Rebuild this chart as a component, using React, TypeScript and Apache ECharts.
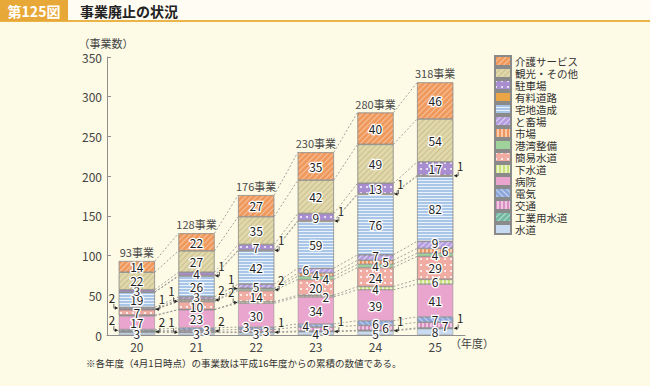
import React, { useEffect, useRef } from 'react';
import * as echarts from 'echarts';

const years = ['20', '21', '22', '23', '24', '25'];
const totals = [93, 128, 176, 230, 280, 318];
const seriesNames = ['水道', '工業用水道', '交通', '電気', '病院', '下水道', '簡易水道', '港湾整備', '市場', 'と畜場', '宅地造成', '有料道路', '駐車場', '観光・その他', '介護サービス'];

const suido = [3, 3, 3, 4, 5, 8];
const kogyoSuido = [2, 1, 1, 1, 1, 1];
const kotsu = [0, 2, 3, 5, 6, 7];
const denki = [2, 3, 3, 4, 6, 7];
const byoin = [17, 23, 30, 34, 39, 41];
const gesuido = [1, 0, 2, 2, 4, 6];
const kaniSuido = [7, 10, 14, 20, 24, 29];
const kowan = [0, 1, 2, 4, 4, 4];
const shijo = [1, 2, 1, 4, 5, 6];
const tochikujo = [2, 3, 5, 6, 7, 9];
const takuchi = [19, 26, 42, 59, 76, 82];
const yuryoDoro = [0, 1, 1, 1, 1, 1];
const chushajo = [3, 4, 7, 9, 13, 17];
const kanko = [22, 27, 35, 42, 49, 54];
const kaigo = [14, 22, 27, 35, 40, 46];

const seriesValues = [suido, kogyoSuido, kotsu, denki, byoin, gesuido, kaniSuido, kowan, shijo, tochikujo, takuchi, yuryoDoro, chushajo, kanko, kaigo];

const yTicks = { min: 0, max: 350, interval: 50 };

// small values labelled outside the bar: [yearIndex, seriesIndex, side]
const outsideLabels: [number, number, string][] = [
  [0, 1, 'R'], [0, 3, 'L'], [0, 5, 'N'], [0, 8, 'R'], [0, 9, 'L'],
  [1, 1, 'L'], [1, 2, 'R'], [1, 7, 'L'], [1, 8, 'R'], [1, 11, 'R'],
  [2, 1, 'R'], [2, 5, 'L'], [2, 7, 'R'], [2, 8, 'L'], [2, 11, 'R'],
  [3, 1, 'R'], [3, 11, 'R'],
  [4, 1, 'R'], [4, 11, 'R'],
  [5, 1, 'R'], [5, 11, 'R'],
];
// shifts of inside labels: [yearIndex, seriesIndex, dx, dy]
const labelShifts: [number, number, number, number][] = [
  [1, 3, 10, 0], [1, 9, 0, -2], [1, 6, 0, 1],
  [2, 3, -10, -2], [2, 2, 10, 0],
  [3, 3, -10, 0], [3, 2, 10, 0], [3, 9, -10, -1], [3, 7, 10, 1], [3, 5, 10, 0],
  [4, 2, 10, 0], [4, 8, 10, -1], [4, 9, 0, -2],
  [5, 2, 10, 0], [5, 8, 10, 0], [5, 9, 0, -2],
];

const FONT = "'Noto Sans CJK JP', 'Noto Sans', sans-serif";
const W = (a: number) => `rgba(255,255,255,${a})`;
const diag = (color: string, rot: number) => ({ symbol: 'rect', symbolSize: 1, dashArrayX: [1, 0], dashArrayY: [1, 2.2], rotation: rot, color });
const hLines = (color: string) => ({ symbol: 'rect', symbolSize: 1, dashArrayX: [1, 0], dashArrayY: [1, 1.6], rotation: 0, color });
const vLines = (color: string) => ({ symbol: 'rect', symbolSize: 1, dashArrayX: [1, 0], dashArrayY: [1.3, 1.7], rotation: Math.PI / 2, color });
const dots = (color: string) => ({ symbol: 'circle', symbolSize: 1, dashArrayX: [1.6, 4], dashArrayY: [1.6, 4], rotation: 0, color });

const colors = ['#c8daf2', '#72b9a2', '#da8fc2', '#8ea7da', '#e9a5cd', '#cde27c', '#f0aba2', '#a0d29c', '#f0965c', '#b59ee0', '#a9c6e9', '#eaa646', '#a88dd0', '#e0d8ab', '#f0995c'];
const decals: any[] = [
  null, diag(W(0.5), -Math.PI / 4), vLines(W(0.5)), diag(W(0.5), Math.PI / 4), null,
  vLines(W(0.6)), dots(W(0.9)), null, vLines(W(0.5)), diag(W(0.55), -Math.PI / 4),
  hLines(W(0.75)), null, dots(W(0.85)), diag('rgba(170,155,100,0.4)', -Math.PI / 4), diag(W(0.4), -Math.PI / 4),
];

const HALF = 18;

function cumulative(yearIdx: number, upTo: number) {
  let s = 0;
  for (let k = 0; k < upTo; k++) s += seriesValues[k][yearIdx];
  return s;
}

export default function App() {
  const ref = useRef<HTMLDivElement>(null);
  useEffect(() => {
    if (!ref.current) return;
    const chart = echarts.init(ref.current, null, { renderer: 'svg' });

    const barSeries = seriesNames.map((name, i) => ({
      name,
      type: 'bar',
      stack: 'total',
      barWidth: 36,
      data: seriesValues[i],
      itemStyle: { color: colors[i], borderColor: '#8a8a8a', borderWidth: 0.5, decal: decals[i] || undefined },
      emphasis: { disabled: true },
      z: 3,
    }));

    const lineData: number[][] = [];
    for (let i = 0; i < years.length - 1; i++) lineData.push([i, 0]);

    const connectSeries = {
      type: 'custom',
      silent: true,
      z: 2,
      data: lineData,
      encode: { x: 0, y: 1 },
      renderItem: (params: any, api: any) => {
        const i = api.value(0);
        const children: any[] = [];
        for (let b = 1; b <= seriesNames.length; b++) {
          const a = api.coord([i, cumulative(i, b)]);
          const c = api.coord([i + 1, cumulative(i + 1, b)]);
          children.push({
            type: 'line',
            shape: { x1: a[0] + HALF, y1: a[1], x2: c[0] - HALF, y2: c[1] },
            style: { stroke: '#8c8c8c', lineWidth: 0.8, lineDash: [2, 2] },
          });
        }
        return { type: 'group', children };
      },
    };

    const labelSeries = {
      type: 'custom',
      silent: true,
      z: 10,
      data: years.map((_, i) => [i, totals[i]]),
      encode: { x: 0, y: 1 },
      renderItem: (params: any, api: any) => {
        const i = api.value(0);
        const children: any[] = [];
        const top = api.coord([i, totals[i]]);
        children.push({
          type: 'text', x: top[0], y: top[1] - 9,
          style: { text: totals[i] + '事業', fill: '#4a4a4a', fontSize: 11, fontFamily: FONT, align: 'center', verticalAlign: 'middle' },
        });
        for (let s = 0; s < seriesNames.length; s++) {
          const v = seriesValues[s][i];
          if (!v) continue;
          const bottom = cumulative(i, s);
          const mid = api.coord([i, bottom + v / 2]);
          const out = outsideLabels.find((o) => o[0] === i && o[1] === s);
          if (out) {
            if (out[2] === 'N') continue;
            const dir = out[2] === 'R' ? 1 : -1;
            const edge = mid[0] + dir * HALF;
            const tx = edge + dir * 7;
            children.push({
              type: 'text', x: tx, y: mid[1] - 10,
              style: { text: String(v), fill: '#222', fontSize: 11.5, fontFamily: FONT, align: 'center', verticalAlign: 'middle', stroke: '#fdfae6', lineWidth: 2 },
            });
            children.push({
              type: 'polyline',
              shape: { points: [[tx - dir * 2, mid[1] - 4], [tx - dir * 2, mid[1]], [edge + dir * 3, mid[1]]] },
              style: { stroke: '#333', lineWidth: 0.7, fill: 'none' },
            });
            children.push({
              type: 'polygon',
              shape: { points: [[edge + dir * 0.5, mid[1]], [edge + dir * 4, mid[1] - 1.8], [edge + dir * 4, mid[1] + 1.8]] },
              style: { fill: '#222' },
            });
          } else {
            const sh = labelShifts.find((o) => o[0] === i && o[1] === s);
            const dx = sh ? sh[2] : 0;
            const dy = sh ? sh[3] : 0;
            children.push({
              type: 'text', x: mid[0] + dx, y: mid[1] + dy,
              style: { text: String(v), fill: '#1e1e1e', fontSize: 12, fontFamily: FONT, align: 'center', verticalAlign: 'middle', stroke: '#ffffff', lineWidth: 2.5 },
            });
          }
        }
        return { type: 'group', children };
      },
    };

    chart.setOption({
      animation: false,
      backgroundColor: '#fdfae6',
      textStyle: { fontFamily: FONT },
      grid: { left: 107, right: 185, top: 57, bottom: 51 },
      xAxis: {
        type: 'category',
        data: years,
        axisLine: { lineStyle: { color: '#8f8f8f', width: 1 } },
        axisTick: { show: false },
        axisLabel: { color: '#444', fontSize: 12, margin: 5, fontFamily: FONT },
      },
      yAxis: {
        type: 'value',
        min: yTicks.min,
        max: yTicks.max,
        interval: yTicks.interval,
        axisLine: { show: true, lineStyle: { color: '#8f8f8f', width: 1 } },
        axisTick: { show: true, inside: true, length: 4, lineStyle: { color: '#8f8f8f' } },
        axisLabel: { color: '#444', fontSize: 12, margin: 5, fontFamily: FONT },
        splitLine: { show: false },
      },
      legend: {
        orient: 'vertical',
        left: 489,
        top: 50,
        itemWidth: 16,
        itemHeight: 10,
        itemGap: 0,
        icon: 'rect',
        selectedMode: false,
        data: seriesNames.slice().reverse(),
        textStyle: { color: '#333', fontSize: 10.5, lineHeight: 11.9, fontFamily: FONT, padding: [0, 0, 0, -1] },
      },
      graphic: [
        { type: 'rect', left: 0, top: 0, shape: { width: 650, height: 21 }, style: { fill: '#fffdf3' }, z: 0 },
        { type: 'rect', left: 0, top: 20, shape: { width: 650, height: 2 }, style: { fill: '#ebb448' }, z: 1 },
        { type: 'rect', left: 0, top: 0, shape: { width: 68, height: 21 }, style: { fill: '#e8a838' }, z: 1 },
        { type: 'text', x: 34, y: 11, style: { text: '第125図', fill: '#fff', fontSize: 14, fontWeight: 'bold', fontFamily: FONT, align: 'center', verticalAlign: 'middle' }, z: 2 },
        { type: 'text', x: 80, y: 11, style: { text: '事業廃止の状況', fill: '#222', fontSize: 14, fontWeight: 'bold', fontFamily: FONT, align: 'left', verticalAlign: 'middle' }, z: 2 },
        { type: 'text', x: 106, y: 43, style: { text: '（事業数）', fill: '#444', fontSize: 11, fontFamily: FONT, align: 'center', verticalAlign: 'middle' }, z: 2 },
        { type: 'text', x: 450, y: 343, style: { text: '（年度）', fill: '#444', fontSize: 11, fontFamily: FONT, align: 'left', verticalAlign: 'middle' }, z: 2 },
        { type: 'text', x: 86, y: 363, style: { text: '※各年度（4月1日時点）の事業数は平成16年度からの累積の数値である。', fill: '#333', fontSize: 9.5, fontFamily: FONT, align: 'left', verticalAlign: 'middle' }, z: 2 },
      ],
      series: [...barSeries, connectSeries, labelSeries],
    });
    return () => chart.dispose();
  }, []);
  return <div ref={ref} style={{ position: 'fixed', left: 0, top: 0, width: 650, height: 386 }} />;
}
